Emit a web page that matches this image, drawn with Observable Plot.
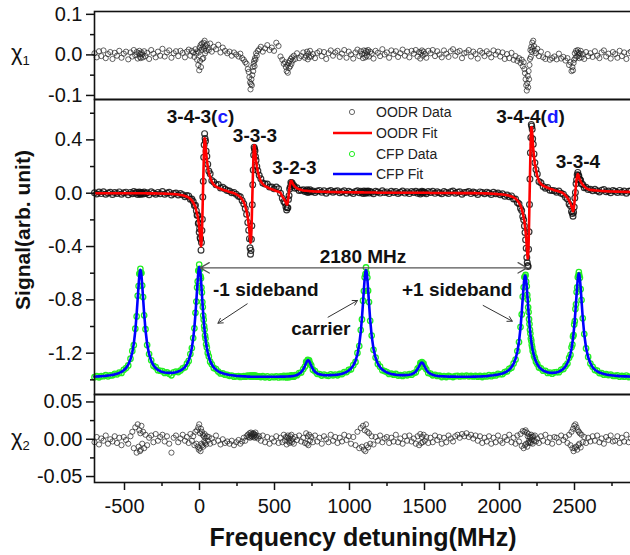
<!DOCTYPE html>
<html><head><meta charset="utf-8">
<script src="https://cdn.jsdelivr.net/npm/d3@7"></script>
<script src="https://cdn.jsdelivr.net/npm/@observablehq/plot@0.6"></script>
<style>
html,body{margin:0;padding:0;background:#fff;}
#chart{position:relative;width:630px;height:555px;overflow:hidden;font-family:"Liberation Sans",Arial,sans-serif;background:#fff;}
#chart svg{position:absolute;left:0;}
</style></head><body><div id="chart"></div>
<script>
// Frequency detuning (MHz), shared sampling of all series
const freq = [
-700,-685,-670,-655,-640,-625,-610,-595,-580,-565,
-550,-535,-520,-505,-490,-475,-460,-448,-438,-428,
-419,-412,-406,-401,-397,-394,-391,-387,-382,-376,
-369,-360,-349,-336,-322,-307,-292,-277,-262,-247,
-232,-217,-202,-187,-172,-157,-142,-127,-112,-97,
-84,-72,-61,-51,-42,-34,-27,-21,-16,-12,
-8,-5,-2,1,4,7,10,13,16,19,
22,25,28,31,34,37,40,44,49,55,
62,71,82,95,110,125,140,155,170,185,
200,215,230,245,260,272,284,295,305,314,
322,328,333,337,340,343,346,349,352,355,
358,361,364,367,370,373,377,382,389,398,
409,422,437,452,467,482,497,512,527,540,
552,562,570,576,581,585,589,593,597,601,
605,609,613,617,622,629,638,650,664,678,
692,703,711,717,722,726,731,737,745,756,
770,785,800,815,830,845,860,875,890,905,
920,935,950,965,980,995,1010,1025,1040,1053,
1065,1075,1083,1090,1096,1101,1106,1110,1114,1119,
1124,1130,1138,1148,1160,1174,1189,1204,1219,1234,
1249,1264,1279,1294,1309,1324,1339,1354,1369,1384,
1399,1414,1429,1442,1454,1464,1472,1478,1483,1488,
1494,1502,1512,1525,1540,1555,1570,1585,1600,1615,
1630,1645,1660,1675,1690,1705,1720,1735,1750,1765,
1780,1795,1810,1825,1840,1855,1870,1885,1900,1915,
1930,1945,1960,1975,1990,2005,2020,2035,2050,2065,
2080,2094,2107,2119,2130,2140,2148,2155,2161,2166,
2170,2174,2178,2182,2185,2188,2191,2194,2197,2200,
2203,2206,2209,2212,2215,2218,2221,2225,2230,2236,
2243,2252,2263,2276,2291,2306,2321,2336,2351,2366,
2381,2396,2411,2426,2440,2453,2464,2473,2480,2486,
2490,2494,2498,2502,2506,2510,2514,2518,2522,2526,
2529,2532,2536,2541,2547,2555,2565,2577,2591,2606,
2621,2636,2651,2666,2681,2696,2711,2726,2741,2756,
2771,2786,2801,2816,2831,2846,2861,2876,2891,2906];

// OODR fit (red line)
const oodrFit = [
0,0,0,0,0,0,0,0,0,0,
0,0,0,0,0,0,0,0,0,0,
0,0,0,0,0,0,0,0,0,0,
0,0,-.001,-.001,-.001,-.001,-.001,-.002,-.002,-.002,
-.003,-.004,-.004,-.006,-.007,-.008,-.010,-.013,-.016,-.021,
-.026,-.033,-.043,-.054,-.069,-.087,-.105,-.134,-.154,-.174,
-.203,-.227,-.255,-.284,-.320,-.365,-.397,-.381,-.308,-.186,
-.049,.097,.239,.349,.412,.407,.370,.307,.252,.200,
.155,.118,.087,.064,.050,.040,.033,.026,.021,.016,
.009,.006,.000,-.009,-.018,-.030,-.046,-.067,-.097,-.136,
-.184,-.235,-.286,-.341,-.372,-.357,-.286,-.169,-.037,.093,
.215,.309,.359,.359,.327,.287,.244,.203,.159,.121,
.088,.068,.053,.045,.035,.029,.024,.017,.011,.004,
-.025,-.040,-.056,-.071,-.085,-.084,-.065,-.027,.015,.047,
.075,.091,.093,.084,.072,.059,.047,.037,.029,.025,
.020,.019,.018,.018,.017,.017,.016,.016,.015,.014,
.013,.012,.012,.011,.011,.010,.010,.009,.009,.009,
.008,.008,.008,.007,.007,.007,.007,.006,.006,.006,
.006,.006,.006,.006,.006,.005,.005,.005,.005,.005,
.005,.005,.005,.005,.005,.005,.004,.004,.004,.004,
.004,.004,.004,.004,.004,.003,.003,.003,.003,.003,
.003,.003,.003,.003,.003,.003,.003,.003,.003,.003,
.003,.003,.003,.003,.002,.002,.002,.002,.002,.002,
.002,.002,.002,.002,.002,.002,.001,.001,.001,.001,
.001,.001,.001,.001,.001,0,0,0,-.001,-.001,
-.002,-.003,-.004,-.005,-.007,-.008,-.010,-.012,-.015,-.019,
-.025,-.031,-.041,-.054,-.071,-.093,-.118,-.147,-.181,-.211,
-.250,-.290,-.338,-.395,-.450,-.490,-.470,-.380,-.230,-.060,
.117,.291,.423,.495,.495,.449,.393,.332,.273,.219,
.173,.130,.090,.070,.056,.048,.041,.034,.029,.022,
.018,.013,.008,-.002,-.017,-.035,-.056,-.076,-.098,-.122,
-.135,-.123,-.091,-.040,.014,.061,.105,.132,.144,.136,
.124,.113,.100,.087,.077,.064,.051,.038,.030,.025,
.023,.021,.020,.018,.017,.016,.015,.014,.013,.013,
.012,.012,.011,.011,.010,.010,.010,.009,.009,.009];

// chi1: OODR residual (data - fit)
const chi1 = [
.004,-.006,.009,-.003,.011,-.008,.002,.007,-.010,.005,
-.002,.010,-.007,.003,.008,-.011,.006,-.004,.012,-.001,
.007,-.009,.004,.010,-.005,.002,-.008,.006,.001,-.006,
.009,-.003,.005,-.010,.012,.003,-.006,.008,-.002,.015,
-.004,.006,.011,-.007,.004,.009,-.003,.010,.005,-.006,
.008,.013,-.002,.010,.006,-.005,.014,.003,-.012,.009,
-.025,.006,-.038,.018,-.015,.024,-.030,.012,.028,-.010,
.020,-.008,.030,.015,.035,.004,.022,.010,.026,.018,
.012,.028,.008,.020,.014,.025,.006,.018,.010,.004,
.008,-.002,.006,.001,-.004,.003,-.008,-.012,-.018,-.022,
-.035,-.042,-.055,-.068,-.085,-.072,-.060,-.075,-.050,-.030,
-.040,-.022,-.015,-.028,-.008,-.012,.004,-.002,.010,.014,
.020,.008,.016,.024,.012,.018,.010,.030,.022,-.004,
-.012,-.022,-.018,-.030,-.040,-.025,-.044,-.020,-.032,-.015,
-.028,-.010,-.022,-.006,-.014,-.002,-.010,.004,-.008,-.003,
.006,-.007,-.002,.008,-.011,.003,-.005,.010,-.004,.002,
-.008,.005,.009,-.003,.007,-.010,.004,.011,-.002,.006,
.010,-.005,.003,.012,-.007,.008,.001,-.009,.006,.013,
-.003,.009,.002,-.008,.011,.004,-.006,.010,-.002,.007,
.012,-.004,.008,.003,-.009,.010,.005,-.003,.014,.001,
.006,-.007,.011,.002,.009,-.005,.004,.013,-.002,.008,
-.006,.010,.003,.012,-.004,.007,-.009,.005,.011,-.002,
.008,.002,-.007,.010,.004,.012,-.003,.009,.001,-.006,
.011,.003,-.005,.009,.014,-.002,.007,.010,-.008,.004,
.006,.012,-.004,.008,.002,-.009,.010,.005,-.003,.009,
.003,-.006,.011,.001,.008,-.004,.006,-.010,.002,-.008,
.005,-.012,-.003,-.015,-.008,-.020,-.012,-.028,-.018,-.035,
-.045,-.060,-.075,-.088,-.070,-.052,-.080,-.040,-.060,-.025,
-.010,.012,-.005,.020,.008,.030,.015,.035,.022,.010,
.004,.015,-.003,.008,-.006,-.010,.002,-.012,-.008,-.004,
-.011,.003,-.009,-.005,-.014,-.008,-.025,-.018,-.040,-.030,
-.038,-.020,-.012,.004,-.008,.010,-.004,.006,.012,-.002,
.005,-.008,.003,.010,-.006,.002,-.010,.007,-.003,.004,
-.005,.009,-.002,-.008,.006,.011,-.004,.003,-.009,.007,
.002,-.007,.010,-.003,.006,-.010,.004,.008,-.005,.001];

// CFP fit (blue line)
const cfpFit = [
-1.376,-1.375,-1.374,-1.373,-1.371,-1.370,-1.368,-1.366,-1.363,-1.359,
-1.354,-1.348,-1.340,-1.328,-1.311,-1.286,-1.245,-1.193,-1.128,-1.032,
-0.906,-0.790,-0.687,-0.617,-0.583,-0.575,-0.583,-0.617,-0.687,-0.789,
-0.904,-1.026,-1.131,-1.208,-1.258,-1.291,-1.312,-1.326,-1.335,-1.341,
-1.345,-1.347,-1.348,-1.348,-1.346,-1.343,-1.338,-1.331,-1.320,-1.304,
-1.282,-1.253,-1.213,-1.160,-1.090,-1.005,-0.907,-0.807,-0.719,-0.652,
-0.596,-0.568,-0.555,-0.558,-0.576,-0.608,-0.652,-0.702,-0.754,-0.808,
-0.860,-0.908,-0.953,-0.993,-1.030,-1.063,-1.092,-1.126,-1.161,-1.196,
-1.227,-1.258,-1.285,-1.307,-1.324,-1.336,-1.345,-1.351,-1.356,-1.360,
-1.364,-1.366,-1.368,-1.370,-1.371,-1.372,-1.373,-1.374,-1.374,-1.375,
-1.376,-1.376,-1.376,-1.376,-1.377,-1.377,-1.377,-1.377,-1.377,-1.377,
-1.377,-1.377,-1.377,-1.377,-1.377,-1.377,-1.377,-1.377,-1.377,-1.377,
-1.377,-1.377,-1.377,-1.377,-1.377,-1.377,-1.377,-1.377,-1.377,-1.376,
-1.376,-1.376,-1.376,-1.375,-1.375,-1.375,-1.375,-1.375,-1.374,-1.374,
-1.374,-1.373,-1.373,-1.372,-1.371,-1.370,-1.368,-1.364,-1.354,-1.342,
-1.321,-1.295,-1.274,-1.260,-1.254,-1.254,-1.260,-1.274,-1.294,-1.320,
-1.340,-1.352,-1.359,-1.362,-1.365,-1.366,-1.366,-1.365,-1.364,-1.363,
-1.361,-1.358,-1.354,-1.348,-1.341,-1.330,-1.315,-1.293,-1.258,-1.208,
-1.134,-1.041,-0.937,-0.824,-0.720,-0.643,-0.591,-0.577,-0.591,-0.643,
-0.720,-0.824,-0.951,-1.072,-1.168,-1.236,-1.279,-1.306,-1.324,-1.335,
-1.345,-1.351,-1.356,-1.359,-1.362,-1.364,-1.365,-1.365,-1.365,-1.364,
-1.362,-1.358,-1.350,-1.338,-1.319,-1.298,-1.281,-1.272,-1.270,-1.274,
-1.285,-1.303,-1.324,-1.343,-1.355,-1.362,-1.367,-1.370,-1.372,-1.373,
-1.374,-1.375,-1.376,-1.376,-1.376,-1.376,-1.377,-1.377,-1.377,-1.377,
-1.377,-1.377,-1.377,-1.376,-1.376,-1.375,-1.375,-1.374,-1.373,-1.372,
-1.369,-1.367,-1.366,-1.363,-1.360,-1.356,-1.352,-1.345,-1.336,-1.324,
-1.305,-1.279,-1.242,-1.189,-1.114,-1.011,-0.900,-0.787,-0.694,-0.639,
-0.618,-0.625,-0.657,-0.707,-0.753,-0.802,-0.851,-0.898,-0.943,-0.984,
-1.021,-1.055,-1.085,-1.112,-1.136,-1.157,-1.175,-1.196,-1.219,-1.242,
-1.262,-1.283,-1.302,-1.318,-1.330,-1.338,-1.344,-1.347,-1.348,-1.347,
-1.344,-1.339,-1.330,-1.317,-1.299,-1.273,-1.241,-1.205,-1.166,-1.124,
-1.088,-1.048,-1.002,-0.948,-0.888,-0.823,-0.757,-0.693,-0.642,-0.609,
-0.602,-0.609,-0.642,-0.709,-0.807,-0.934,-1.059,-1.159,-1.230,-1.275,
-1.306,-1.324,-1.336,-1.345,-1.351,-1.356,-1.360,-1.363,-1.365,-1.367,
-1.369,-1.370,-1.372,-1.373,-1.374,-1.374,-1.375,-1.376,-1.376,-1.377];

// chi2: CFP residual (data - fit)
const chi2 = [
-.004,.003,-.007,.001,-.002,.005,-.006,.000,-.003,.004,
-.005,.002,-.008,.003,-.001,-.006,.004,.010,-.012,.016,
-.018,.020,-.010,.012,-.016,.008,-.014,.018,-.006,.010,
-.012,.006,-.008,.002,.005,-.004,.007,-.002,.003,.006,
-.003,.004,-.006,-.018,.002,.005,-.004,.001,.006,-.002,
.003,-.005,.007,-.002,.004,-.008,.010,-.006,.012,-.010,
.016,-.014,.020,-.012,.008,-.016,.014,-.006,.010,-.008,
.006,-.010,.004,-.003,.007,-.005,.002,-.007,.004,-.002,
.003,-.006,.001,-.004,.005,-.002,-.007,.000,-.005,-.003,
-.006,-.002,-.008,-.004,-.001,-.006,-.003,.002,-.002,.004,
.006,.003,.008,.002,.005,.009,.004,.007,.003,.006,
.008,.004,.007,.002,.006,.009,.003,.005,.001,.004,
-.002,.005,-.004,.003,-.006,.001,-.003,.004,-.005,.002,
-.004,.006,-.002,.003,-.007,.002,.005,-.003,.001,-.005,
.004,-.002,.006,-.004,.001,-.006,.003,-.001,.005,-.003,
.002,-.005,.008,-.006,.004,-.008,.006,-.002,.003,-.004,
.005,-.003,.002,-.006,.004,.000,-.004,.006,-.002,.003,
-.005,.002,-.003,.006,-.001,.004,-.006,.003,-.008,.010,
-.012,.015,-.010,.018,-.014,.012,-.016,.020,-.008,.010,
-.011,.008,-.006,.004,-.007,.003,-.002,.005,-.004,.001,
.003,-.005,.002,-.003,.006,-.004,.001,-.006,.004,-.002,
.005,-.003,.001,-.006,.004,-.008,.007,-.005,.003,-.004,
.006,-.002,.003,-.005,.002,-.004,.005,-.001,.003,-.006,
.002,-.004,.005,.001,-.003,.004,.006,.002,.007,.004,
.008,.003,.006,.001,.005,-.002,.004,-.005,.002,-.003,
.004,-.006,.002,-.004,.005,-.002,-.005,.003,-.001,.006,
-.004,.002,-.006,.005,-.003,.007,-.009,.011,-.012,.010,
-.008,.012,-.006,.009,-.010,.004,-.005,.007,-.002,.003,
-.004,.002,-.005,.006,-.001,.003,-.006,.004,-.002,.005,
-.003,.001,-.005,.004,-.002,.006,-.004,.002,-.006,.003,
.002,-.004,.005,-.001,.003,-.005,.006,-.008,.010,-.012,
.014,-.016,.018,-.012,.020,-.010,.016,-.014,.012,-.008,
.010,-.006,.008,-.011,.006,-.004,.003,-.005,.002,-.003,
.004,-.002,.005,-.004,.001,-.006,.003,-.001,.005,-.003,
-.002,.004,-.005,.002,-.003,.006,-.004,.001,.003,-.005];

// Tick values
const xTicks = [-500, 0, 500, 1000, 1500, 2000, 2500];
const xMinor = [-250, 250, 750, 1250, 1750, 2250, 2750];
const y1Ticks = [-0.1, 0, 0.1];
const y1Minor = [-0.05, 0.05];
const y2Ticks = [-1.2, -0.8, -0.4, 0, 0.4];
const y2Minor = [-1.4, -1.0, -0.6, -0.2, 0.2, 0.6];
const y3Ticks = [-0.05, 0, 0.05];
const y3Minor = [-0.025, 0.025];

// Annotations (data coordinates)
const peakLabels = [
  {text: "3-4-3(c)", x: 7, y: 0.57},
  {text: "3-3-3", x: 370, y: 0.427},
  {text: "3-2-3", x: 633, y: 0.19},
  {text: "3-4-4(d)", x: 2207, y: 0.57},
  {text: "3-3-4", x: 2523, y: 0.232}
];
const cfpLabels = [
  {text: "2180 MHz", x: 1090, y: -0.478},
  {text: "-1 sideband", x: 442, y: -0.722},
  {text: "carrier", x: 809, y: -1.02},
  {text: "+1 sideband", x: 1718, y: -0.722}
];
const spanArrows = [
  {x1: 1092, y1: -0.56, x2: 5, y2: -0.56},
  {x1: 1092, y1: -0.56, x2: 2184, y2: -0.56}
];
const pointerArrows = [
  {x1: 318, y1: -0.83, x2: 123, y2: -0.975},
  {x1: 857, y1: -0.93, x2: 1053, y2: -0.805},
  {x1: 1891, y1: -0.842, x2: 2085, y2: -0.96}
];
const legendItems = ["OODR Data", "OODR Fit", "CFP Data", "CFP Fit"];

const n = Math.min(freq.length, oodrFit.length, chi1.length, cfpFit.length, chi2.length);
const rows = [];
for (let i = 0; i < n; i++) {
  rows.push({f: freq[i], oodrFit: oodrFit[i], chi1: chi1[i], oodrData: oodrFit[i] + chi1[i],
             cfpFit: cfpFit[i], chi2: chi2[i], cfpData: cfpFit[i] + chi2[i]});
}

const fmt = k => d => (d < -1e-9 ? "-" : "") + Math.abs(d).toFixed(k);
const xDomain = [-700, 2940];
const baseStyle = {background: "transparent", overflow: "visible", maxWidth: "none",
  fontFamily: '"Liberation Sans", Arial, sans-serif', fontSize: "20px", color: "#111"};
const chart = document.getElementById("chart");

function yAxes(major, minor, k) {
  return [
    Plot.axisY({ticks: major, tickSize: 8, tickPadding: 4, tickFormat: fmt(k), label: null, strokeWidth: 1.5}),
    Plot.axisY({ticks: minor, tickSize: 4, tickFormat: () => "", label: null, strokeWidth: 1.5})
  ];
}

// Panel 1: chi1
const p1 = Plot.plot({
  width: 640, height: 100, marginLeft: 94, marginRight: 0, marginTop: 11, marginBottom: 1,
  style: baseStyle,
  x: {domain: xDomain, axis: null},
  y: {domain: [-0.11, 0.107]},
  marks: [
    Plot.dot(rows, {x: "f", y: "chi1", r: 2.6, stroke: "#222", strokeOpacity: 0.7, strokeWidth: 1}),
    ...yAxes(y1Ticks, y1Minor, 1),
    Plot.frame({stroke: "#111", strokeWidth: 1.6})
  ]
});
p1.style.top = "0px";
chart.appendChild(p1);

// Panel 2: main
const p2 = Plot.plot({
  width: 640, height: 296, marginLeft: 94, marginRight: 0, marginTop: 0, marginBottom: 1,
  style: baseStyle,
  x: {domain: xDomain, axis: null},
  y: {domain: [-1.51, 0.703]},
  marks: [
    Plot.dot(rows, {x: "f", y: "oodrData", r: 2.9, stroke: "#111", strokeOpacity: 0.85, strokeWidth: 1.2}),
    Plot.line(rows, {x: "f", y: "oodrFit", stroke: "#ff0000", strokeWidth: 2.6}),
    Plot.dot(rows, {x: "f", y: "cfpData", r: 2.7, stroke: "#22ee22", strokeWidth: 1.3}),
    Plot.line(rows, {x: "f", y: "cfpFit", stroke: "#0000ff", strokeWidth: 2.6}),
    Plot.arrow(spanArrows, {x1: "x1", y1: "y1", x2: "x2", y2: "y2", stroke: "#555", strokeWidth: 1.3, headLength: 12}),
    Plot.arrow(pointerArrows, {x1: "x1", y1: "y1", x2: "x2", y2: "y2", stroke: "#333", strokeWidth: 1, headLength: 8}),
    Plot.text(peakLabels, {x: "x", y: "y", text: "text", fontSize: 19, fontWeight: "bold", fill: "#111"}),
    Plot.text(cfpLabels, {x: "x", y: "y", text: "text", fontSize: 19, fontWeight: "bold", fill: "#111"}),
    ...yAxes(y2Ticks, y2Minor, 1),
    Plot.frame({stroke: "#111", strokeWidth: 1.6})
  ]
});
p2.style.top = "99px";
chart.appendChild(p2);
d3.select(p2).selectAll("text").each(function () {
  const m = this.textContent.match(/^(\d-\d-\d\()([cd])(\))$/);
  if (!m) return;
  const t = d3.select(this);
  t.text(null);
  t.append("tspan").text(m[1]);
  t.append("tspan").attr("fill", "#1a1aff").text(m[2]);
  t.append("tspan").text(m[3]);
});

// Panel 3: chi2 with x axis
const p3 = Plot.plot({
  width: 640, height: 161, marginLeft: 94, marginRight: 0, marginTop: 0, marginBottom: 73,
  style: baseStyle,
  x: {domain: xDomain},
  y: {domain: [-0.058, 0.06]},
  marks: [
    Plot.dot(rows, {x: "f", y: "chi2", r: 2.6, stroke: "#222", strokeOpacity: 0.7, strokeWidth: 1}),
    ...yAxes(y3Ticks, y3Minor, 2),
    Plot.axisX({ticks: xTicks, tickSize: 8, tickPadding: 8, tickFormat: fmt(0), label: null, strokeWidth: 1.5}),
    Plot.axisX({ticks: xMinor, tickSize: 4, tickFormat: () => "", label: null, strokeWidth: 1.5}),
    Plot.frame({stroke: "#111", strokeWidth: 1.6})
  ]
});
p3.style.top = "394px";
chart.appendChild(p3);

// Overlay: axis titles and legend
const ov = d3.select(chart).append("svg")
  .attr("width", 630).attr("height", 555)
  .style("top", "0px").style("pointer-events", "none")
  .style("font-family", '"Liberation Sans", Arial, sans-serif');

const chiLabels = [{sub: "1", y: 54}, {sub: "2", y: 439}];
chiLabels.forEach(c => {
  const t = ov.append("text").attr("x", 11).attr("y", c.y + 6).attr("font-size", 22).attr("fill", "#111");
  t.append("tspan").text("χ");
  t.append("tspan").attr("font-size", 13).attr("dy", 5).text(c.sub);
});
ov.append("text").attr("transform", "translate(30,230) rotate(-90)")
  .attr("text-anchor", "middle").attr("font-size", 21).attr("font-weight", "bold").attr("fill", "#111")
  .text("Signal(arb. unit)");
ov.append("text").attr("x", 363).attr("y", 546).attr("text-anchor", "middle")
  .attr("font-size", 25).attr("font-weight", "bold").attr("fill", "#111")
  .text("Frequency detuning(MHz)");

const legY = [112, 133, 154, 174];
legendItems.forEach((name, i) => {
  const y = legY[i];
  if (i === 0) ov.append("circle").attr("cx", 352).attr("cy", y).attr("r", 2.6).attr("fill", "none").attr("stroke", "#666").attr("stroke-width", 1);
  if (i === 1) ov.append("line").attr("x1", 333).attr("x2", 372).attr("y1", y).attr("y2", y).attr("stroke", "#ff0000").attr("stroke-width", 2.6);
  if (i === 2) ov.append("circle").attr("cx", 352).attr("cy", y).attr("r", 2.6).attr("fill", "none").attr("stroke", "#22ee22").attr("stroke-width", 1);
  if (i === 3) ov.append("line").attr("x1", 333).attr("x2", 372).attr("y1", y).attr("y2", y).attr("stroke", "#0000ff").attr("stroke-width", 2.6);
  ov.append("text").attr("x", 376).attr("y", y).attr("dy", "0.36em").attr("font-size", 14).attr("fill", "#222").text(name);
});
</script>
</body></html>
